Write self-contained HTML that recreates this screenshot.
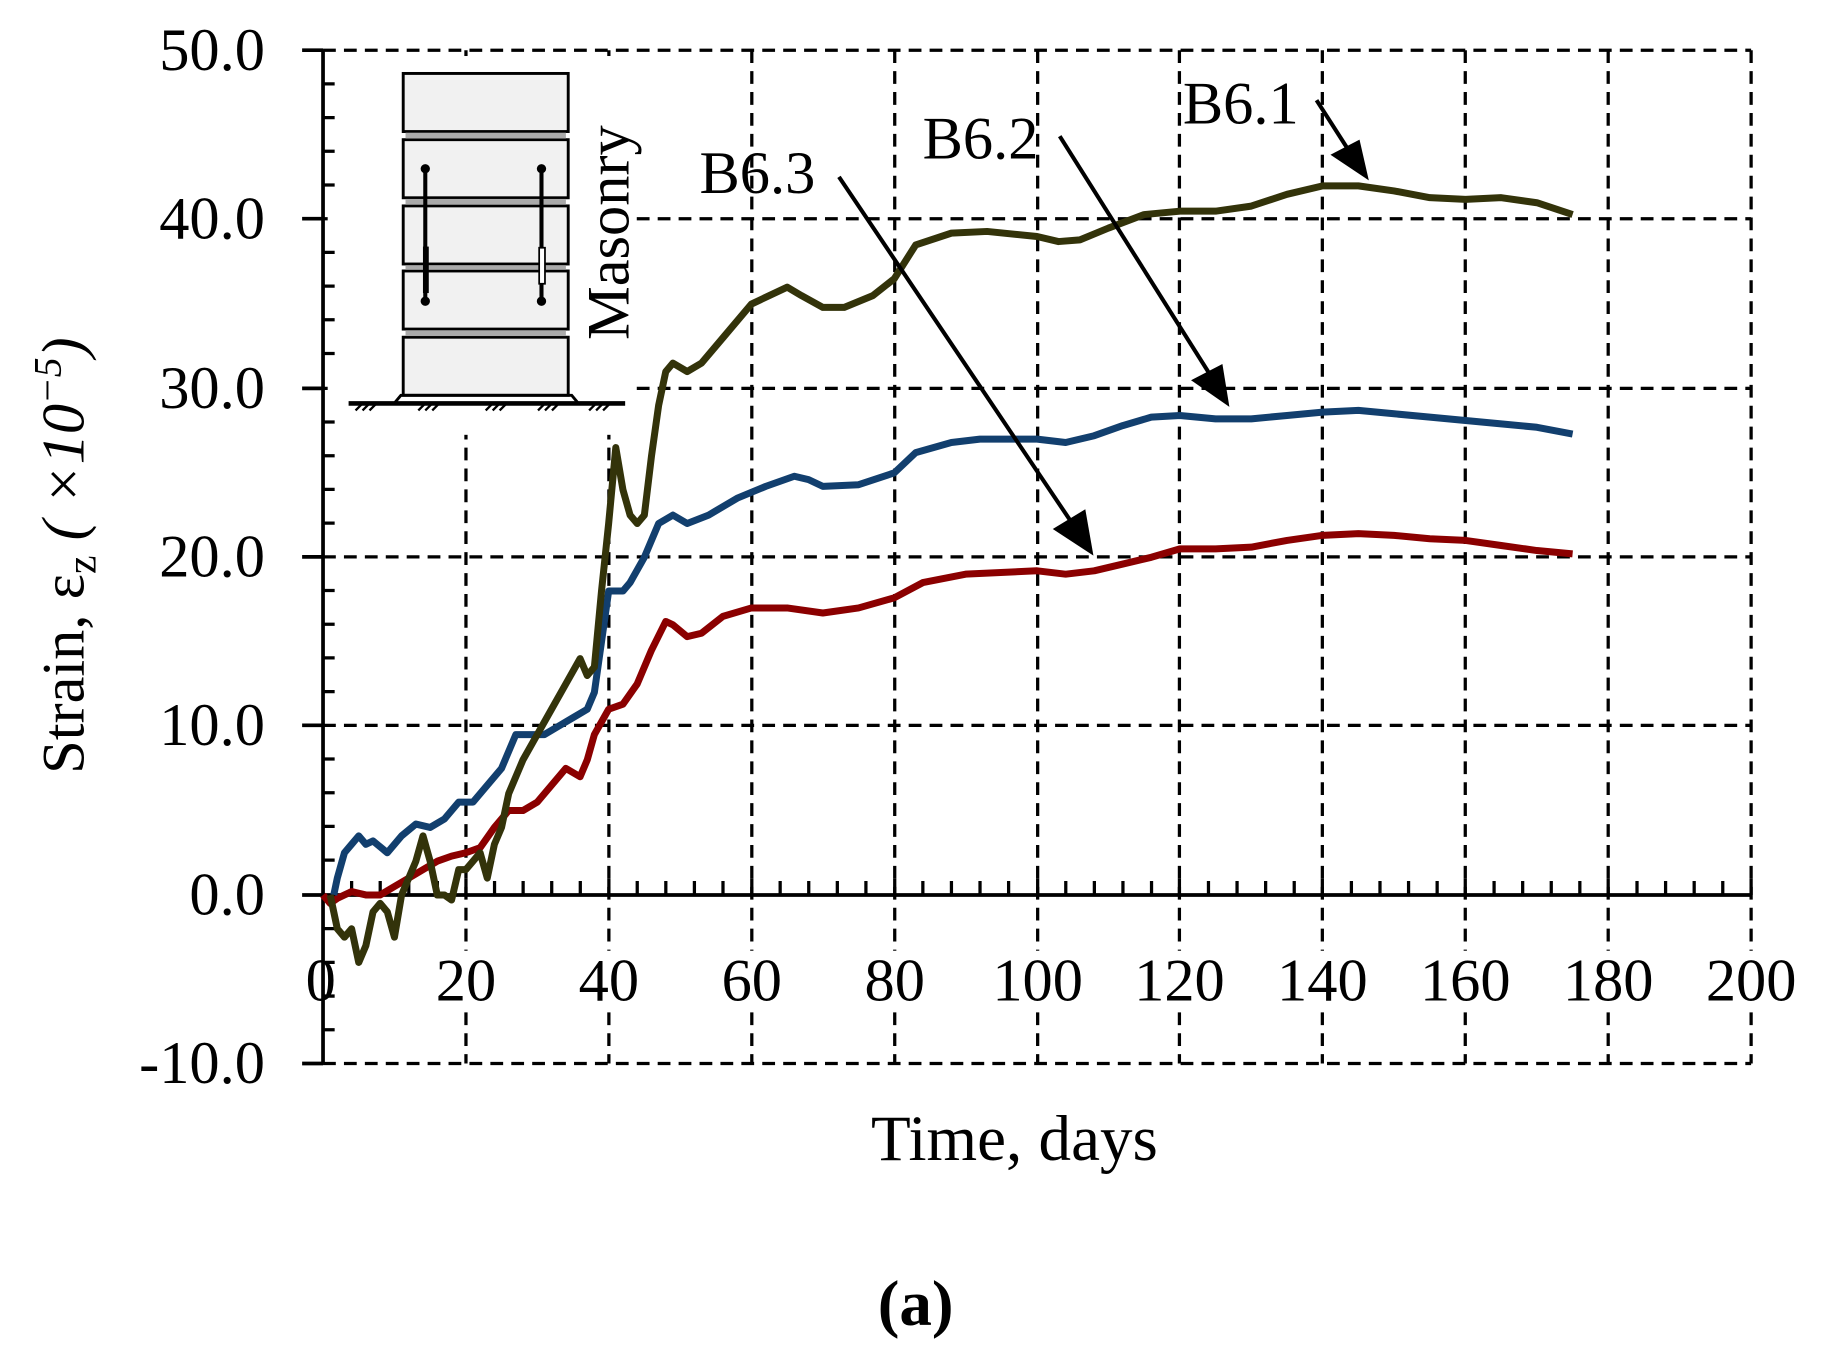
<!DOCTYPE html>
<html><head><meta charset="utf-8"><style>html,body{margin:0;padding:0;background:#fff}svg{display:block}</style></head>
<body>
<svg width="1822" height="1360" viewBox="0 0 1568 1170" xmlns="http://www.w3.org/2000/svg" font-family="'Liberation Serif', serif">
<rect width="1568" height="1170" fill="#fff"/>
<g stroke="#000" stroke-width="2.8" stroke-dasharray="11,7" fill="none">
<line x1="278" y1="43" x2="1507" y2="43"/>
<line x1="278" y1="188" x2="1507" y2="188"/>
<line x1="278" y1="334" x2="1507" y2="334"/>
<line x1="278" y1="479" x2="1507" y2="479"/>
<line x1="278" y1="624" x2="1507" y2="624"/>
<line x1="278" y1="915" x2="1507" y2="915"/>
<line x1="401" y1="43" x2="401" y2="915"/>
<line x1="524" y1="43" x2="524" y2="915"/>
<line x1="647" y1="43" x2="647" y2="915"/>
<line x1="770" y1="43" x2="770" y2="915"/>
<line x1="893" y1="43" x2="893" y2="915"/>
<line x1="1015" y1="43" x2="1015" y2="915"/>
<line x1="1138" y1="43" x2="1138" y2="915"/>
<line x1="1261" y1="43" x2="1261" y2="915"/>
<line x1="1384" y1="43" x2="1384" y2="915"/>
<line x1="1507" y1="43" x2="1507" y2="915"/>
</g>
<rect x="282" y="48" width="262" height="326" fill="#fff"/>
<g fill="#fff">
<rect x="262" y="818" width="34" height="50"/>
<rect x="372" y="818" width="58" height="50"/>
<rect x="495" y="818" width="58" height="50"/>
<rect x="618" y="818" width="58" height="50"/>
<rect x="741" y="818" width="58" height="50"/>
<rect x="850" y="818" width="86" height="50"/>
<rect x="972" y="818" width="86" height="50"/>
<rect x="1095" y="818" width="86" height="50"/>
<rect x="1218" y="818" width="86" height="50"/>
<rect x="1341" y="818" width="86" height="50"/>
<rect x="1464" y="818" width="86" height="50"/>
</g>
<g stroke="#000" stroke-width="3.2" fill="none">
<line x1="278" y1="43" x2="278" y2="915"/>
<line x1="278" y1="770" x2="1507" y2="770"/>
<line x1="260" y1="43" x2="278" y2="43"/>
<line x1="260" y1="188" x2="278" y2="188"/>
<line x1="260" y1="334" x2="278" y2="334"/>
<line x1="260" y1="479" x2="278" y2="479"/>
<line x1="260" y1="624" x2="278" y2="624"/>
<line x1="260" y1="770" x2="278" y2="770"/>
<line x1="260" y1="915" x2="278" y2="915"/>
</g>
<g stroke="#000" stroke-width="2.8">
<path d="M278 72h10M278 101h10M278 130h10M278 159h10M278 217h10M278 246h10M278 275h10M278 304h10M278 363h10M278 392h10M278 421h10M278 450h10M278 508h10M278 537h10M278 566h10M278 595h10M278 653h10M278 682h10M278 711h10M278 740h10M278 799h10M278 828h10M278 857h10M278 886h10"/>
<path id="xt" d="M302.6 770v-12M327.2 770v-12M351.8 770v-12M376.4 770v-12M425.6 770v-12M450.2 770v-12M474.8 770v-12M499.4 770v-12"/>
<use href="#xt" x="245.8"/><use href="#xt" x="491.6"/><use href="#xt" x="737.4"/><use href="#xt" x="983.2"/>
<path d="M401 770v-14M524 770v-14M647 770v-14M770 770v-14M893 770v-14M1015 770v-14M1138 770v-14M1261 770v-14M1384 770v-14M1507 770v-14"/>
</g>
<g font-size="52" text-anchor="end">
<text x="228" y="60">50.0</text>
<text x="228" y="205">40.0</text>
<text x="228" y="351">30.0</text>
<text x="228" y="496">20.0</text>
<text x="228" y="641">10.0</text>
<text x="228" y="787">0.0</text>
<text x="228" y="932">-10.0</text>
</g>
<g font-size="52" text-anchor="middle">
<text x="276" y="861">0</text><text x="401" y="861">20</text><text x="524" y="861">40</text><text x="647" y="861">60</text><text x="770" y="861">80</text><text x="893" y="861">100</text><text x="1015" y="861">120</text><text x="1138" y="861">140</text><text x="1261" y="861">160</text><text x="1384" y="861">180</text><text x="1507" y="861">200</text>
</g>
<text x="873" y="998" font-size="56" text-anchor="middle">Time, days</text>
<text transform="translate(72,478) rotate(-90)" font-size="52" text-anchor="middle">Strain, ε<tspan font-size="36" dy="10">z</tspan><tspan dy="-10" font-style="italic"> ( ×10</tspan><tspan font-style="italic" font-size="34" dy="-20">−5</tspan><tspan font-style="italic" dy="20">)</tspan></text>
<text x="788" y="1140" font-size="56" font-weight="bold" text-anchor="middle">(a)</text>
<g stroke="#000" stroke-width="2.5" fill="#f1f1f1">
<rect x="347" y="63" width="142" height="50"/>
<rect x="347" y="120" width="142" height="50"/>
<rect x="347" y="177" width="142" height="50"/>
<rect x="347" y="233" width="142" height="50"/>
<rect x="347" y="290" width="142" height="50"/>
</g>
<g fill="#aaa"><rect x="349" y="114" width="138" height="5"/><rect x="349" y="171" width="138" height="5"/><rect x="349" y="228" width="138" height="4"/><rect x="349" y="284" width="138" height="5"/></g>
<path d="M340 346L345 340H492L497 346" stroke="#000" stroke-width="2.5" fill="none"/>
<line x1="300" y1="347" x2="538" y2="347" stroke="#000" stroke-width="4"/>
<path d="M306 353l6-6M312 353l6-6M318 353l6-6M360 353l6-6M366 353l6-6M372 353l6-6M418 353l6-6M424 353l6-6M430 353l6-6M463 353l6-6M469 353l6-6M475 353l6-6M507 353l6-6M513 353l6-6M519 353l6-6" stroke="#000" stroke-width="2"/>
<g stroke="#000" stroke-width="3.5"><line x1="366" y1="145" x2="366" y2="258"/><line x1="466" y1="145" x2="466" y2="258"/></g>
<rect x="364" y="212" width="5" height="40" fill="#000"/>
<rect x="464" y="213" width="5" height="31" fill="#fff" stroke="#000" stroke-width="1.5"/>
<g fill="#000"><circle cx="366" cy="145" r="4"/><circle cx="366" cy="259" r="4"/><circle cx="466" cy="145" r="4"/><circle cx="466" cy="259" r="4"/></g>
<text transform="translate(541,200) rotate(-90)" font-size="52" text-anchor="middle">Masonry</text>
<g transform="translate(278,770) scale(6.145,-14.53)" fill="none" stroke-width="7" stroke-linejoin="round">
<polyline vector-effect="non-scaling-stroke" stroke="#8b0000" points="0,0 1,-0.5 2,-0.2 3,0 4,0.2 6,0 8,0 10,0.5 12,1 14,1.5 16,2 18,2.3 20,2.5 22,2.8 24,4 26,5 28,5 30,5.5 32,6.5 34,7.5 36,7 37,8 38,9.5 40,11 42,11.3 44,12.5 46,14.5 48,16.2 49,16 51,15.3 53,15.5 56,16.5 60,17 65,17 70,16.7 75,17 80,17.6 84,18.5 90,19 100,19.2 104,19 108,19.2 112,19.6 116,20 120,20.5 125,20.5 130,20.6 135,21 140,21.3 145,21.4 150,21.3 155,21.1 160,21 165,20.7 170,20.4 175,20.2"/>
<polyline vector-effect="non-scaling-stroke" stroke="#123f6e" points="1.5,0 2,1 3,2.5 4,3 5,3.5 6,3 7,3.2 9,2.5 11,3.5 13,4.2 15,4 17,4.5 19,5.5 21,5.5 23,6.5 25,7.5 27,9.5 29,9.5 31,9.5 33,10 35,10.5 37,11 38,12 39,15 40,18 42,18 43,18.5 45,20 47,22 49,22.5 51,22 54,22.5 58,23.5 62,24.2 66,24.8 68,24.6 70,24.2 75,24.3 80,25 83,26.2 88,26.8 92,27 100,27 104,26.8 108,27.2 112,27.8 116,28.3 120,28.4 125,28.2 130,28.2 135,28.4 140,28.6 145,28.7 150,28.5 155,28.3 160,28.1 165,27.9 170,27.7 175,27.3"/>
<polyline vector-effect="non-scaling-stroke" stroke="#33330a" points="1,0 2,-2 3,-2.5 4,-2 5,-4 6,-3 7,-1 8,-0.5 9,-1 10,-2.5 11,0 12,1 13,2 14,3.5 15,2 16,0 17,0 18,-0.3 19,1.5 20,1.5 21,2 22,2.5 23,1 24,3 25,4 26,6 28,8 30,9.5 32,11 34,12.5 36,14 37,13 38,13.5 39,18 40,22 41,26.5 42,24 43,22.5 44,22 45,22.5 46,26 47,29 48,31 49,31.5 51,31 53,31.5 56,33 60,35 65,36 67,35.5 70,34.8 73,34.8 77,35.5 80,36.5 83,38.5 88,39.2 93,39.3 100,39 103,38.7 106,38.8 110,39.5 115,40.3 120,40.5 125,40.5 130,40.8 135,41.5 140,42 145,42 150,41.7 155,41.3 160,41.2 165,41.3 170,41 175,40.3"/>
</g>
<g font-size="52">
<text x="1018" y="106">B6.1</text>
<text x="794" y="136">B6.2</text>
<text x="602" y="166">B6.3</text>
</g>
<g stroke="#000" stroke-width="3.5">
<line x1="1133" y1="86" x2="1165" y2="136"/>
<line x1="912" y1="117" x2="1045" y2="328"/>
<line x1="722" y1="152" x2="928" y2="458"/>
</g>
<g fill="#000">
<polygon points="1178,155 1145,133 1170,120"/>
<polygon points="1058,350 1025,327 1052,313"/>
<polygon points="941,478 906,455 934,438"/>
</g>
</svg>
</body></html>
